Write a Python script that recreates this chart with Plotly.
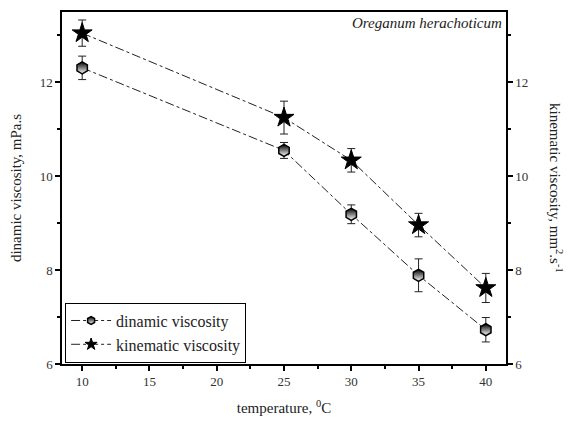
import plotly.graph_objects as go

temperature = [10, 25, 30, 35, 40]
dynamic_visc = [12.31, 10.55, 9.19, 7.89, 6.73]
dynamic_err = [0.25, 0.17, 0.2, 0.35, 0.26]
kinematic_visc = [13.05, 11.25, 10.34, 8.96, 7.62]
kinematic_err = [0.28, 0.35, 0.25, 0.25, 0.31]

x_ticks = [10, 15, 20, 25, 30, 35, 40]
y_ticks = [6, 8, 10, 12]

FONT = "Liberation Serif, Times New Roman, serif"

hex_marker = dict(symbol="hexagon", color="black",
                  gradient=dict(type="vertical", color="white"),
                  line=dict(color="black", width=1.5))
star_marker = dict(symbol="star", color="black", line=dict(color="black", width=1))
dash_line = dict(color="#222", width=1, dash="dashdot")

fig = go.Figure()

fig.add_trace(go.Scatter(
    x=temperature, y=dynamic_visc, name="dinamic viscosity",
    mode="lines+markers", showlegend=False,
    line=dash_line, marker=dict(size=12, **hex_marker),
    error_y=dict(type="data", array=dynamic_err, color="#222", thickness=1, width=4),
))

fig.add_trace(go.Scatter(
    x=temperature, y=kinematic_visc, name="kinematic viscosity",
    mode="lines+markers", yaxis="y2", showlegend=False,
    line=dash_line, marker=dict(size=15, **star_marker),
    error_y=dict(type="data", array=kinematic_err, color="#222", thickness=1, width=4),
))

# legend entries with smaller symbols
fig.add_trace(go.Scatter(
    x=[None], y=[None], name="dinamic viscosity", mode="lines+markers",
    line=dash_line, marker=dict(size=8, **hex_marker),
))
fig.add_trace(go.Scatter(
    x=[None], y=[None], name="kinematic viscosity", mode="lines+markers",
    line=dash_line, marker=dict(size=9, **star_marker),
))

axis_common = dict(
    showgrid=False, zeroline=False, showline=True, linecolor="black", linewidth=1.5,
    ticks="outside", ticklen=5, tickwidth=1.5, tickcolor="black",
    tickfont=dict(family=FONT, size=13, color="#333"),
)

minor_y = dict(tickvals=[7, 9, 11, 13], ticks="outside",
               ticklen=3, tickwidth=1.5, tickcolor="black")

fig.update_layout(
    width=568, height=424,
    margin=dict(l=62, r=62, t=10, b=57),
    plot_bgcolor="white", paper_bgcolor="white",
    font=dict(family=FONT, color="#222"),
    xaxis=dict(
        range=[8.5, 41.5], tickvals=x_ticks, mirror=True,
        minor=dict(tickvals=[12.5, 17.5, 22.5, 27.5, 32.5, 37.5], ticks="outside",
                   ticklen=3, tickwidth=1.5, tickcolor="black"),
        title=dict(text="temperature, <sup>0</sup>C", font=dict(family=FONT, size=15), standoff=14),
        **axis_common,
    ),
    yaxis=dict(
        range=[6, 13.5], tickvals=y_ticks, minor=minor_y,
        title=dict(text="dinamic viscosity, mPa.s", font=dict(family=FONT, size=15), standoff=14),
        **axis_common,
    ),
    yaxis2=dict(
        range=[6, 13.5], tickvals=y_ticks, overlaying="y", side="right", minor=minor_y,
        **axis_common,
    ),
    legend=dict(
        x=0.007, y=0.004, xanchor="left", yanchor="bottom",
        bgcolor="white", bordercolor="black", borderwidth=1,
        font=dict(family=FONT, size=16, color="#222"),
        tracegroupgap=0, itemwidth=40,
    ),
    showlegend=True,
)

fig.add_annotation(
    text="<i>Oreganum herachoticum</i>", xref="paper", yref="paper",
    x=0.995, y=0.997, xanchor="right", yanchor="top", showarrow=False,
    font=dict(family=FONT, size=15, color="#222"),
)

fig.add_annotation(
    text="kinematic viscosity, mm<sup>2</sup>.s<sup>-1</sup>", xref="paper", yref="paper",
    x=1.0, xshift=50, y=0.5, xanchor="center", yanchor="middle", textangle=90,
    showarrow=False, font=dict(family=FONT, size=15, color="#222"),
)

fig.write_html("out.html")
